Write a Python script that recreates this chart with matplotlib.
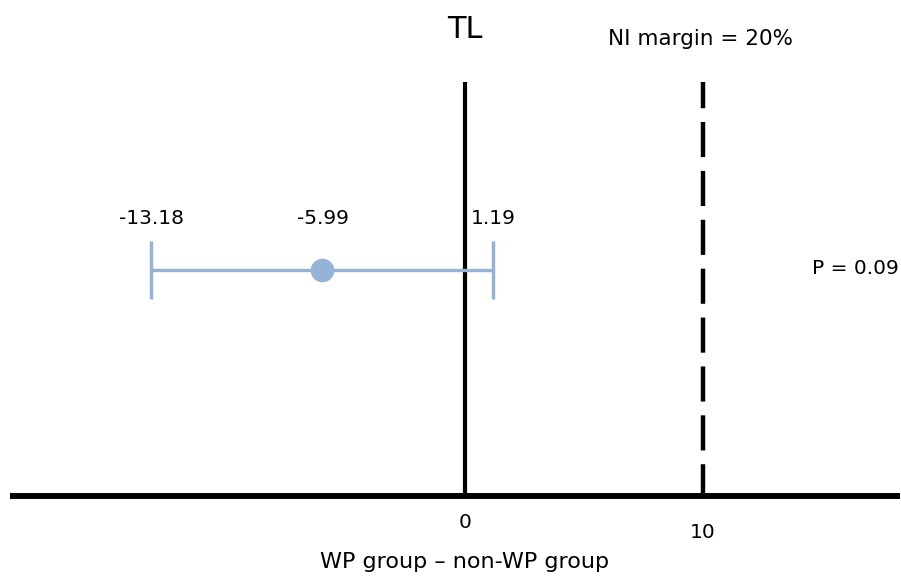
import matplotlib
matplotlib.use("Agg")
import matplotlib.pyplot as plt

# difference between groups (WP - non-WP), mean and 95% CI
outcome = "TL"
estimate = -5.99
ci_low = -13.18
ci_high = 1.19
ni_margin = 10
ni_label = "NI margin = 20%"
p_text = "P = 0.09"
xticks = [0, 10]
xlabel = "WP group \u2013 non-WP group"

blue = "#95b3d7"

plt.rcParams["font.family"] = ["DejaVu Sans"]

fig = plt.figure(figsize=(9.01, 5.77), dpi=100)
ax = fig.add_axes([0, 0, 1, 1])
ax.set_xlim(-19.54, 18.32)
ax.set_ylim(577, 0)  # y measured in pixels from top
ax.axis("off")

# horizontal axis
ax.plot([-19.12, 18.28], [496, 496], color="black", lw=4.3, solid_capstyle="butt")
# zero line and NI margin
ax.plot([0, 0], [82, 496], color="black", lw=3, solid_capstyle="butt")
ax.plot([ni_margin, ni_margin], [82, 496], color="black", lw=3.2,
        ls=(2.0, (7.9, 3.1)))

# confidence interval
y = 270
ax.errorbar([estimate], [y], xerr=[[estimate - ci_low], [ci_high - estimate]],
            fmt="o", color=blue, ms=16, elinewidth=2.4, capsize=21,
            capthick=2.5, zorder=3)

lab_y = 218
ax.text(ci_low, lab_y, f"{ci_low:.2f}", ha="center", va="center", fontsize=14.5)
ax.text(estimate, lab_y, f"{estimate:.2f}", ha="center", va="center", fontsize=14.5)
ax.text(ci_high, lab_y, f"{ci_high:.2f}", ha="center", va="center", fontsize=14.5)

ax.text(0, 30, outcome, ha="center", va="center", fontsize=22)
ax.text(ni_margin - 0.12, 39, ni_label, ha="center", va="center", fontsize=15.5)
ax.text(16.4, 268, p_text, ha="center", va="center", fontsize=14.5)

ax.text(xticks[0], 523, str(xticks[0]), ha="center", va="center", fontsize=14.5)
ax.text(xticks[1], 533, str(xticks[1]), ha="center", va="center", fontsize=14.5)
ax.text(0, 562, xlabel, ha="center", va="center", fontsize=16)

fig.savefig("out.png", dpi=100)
